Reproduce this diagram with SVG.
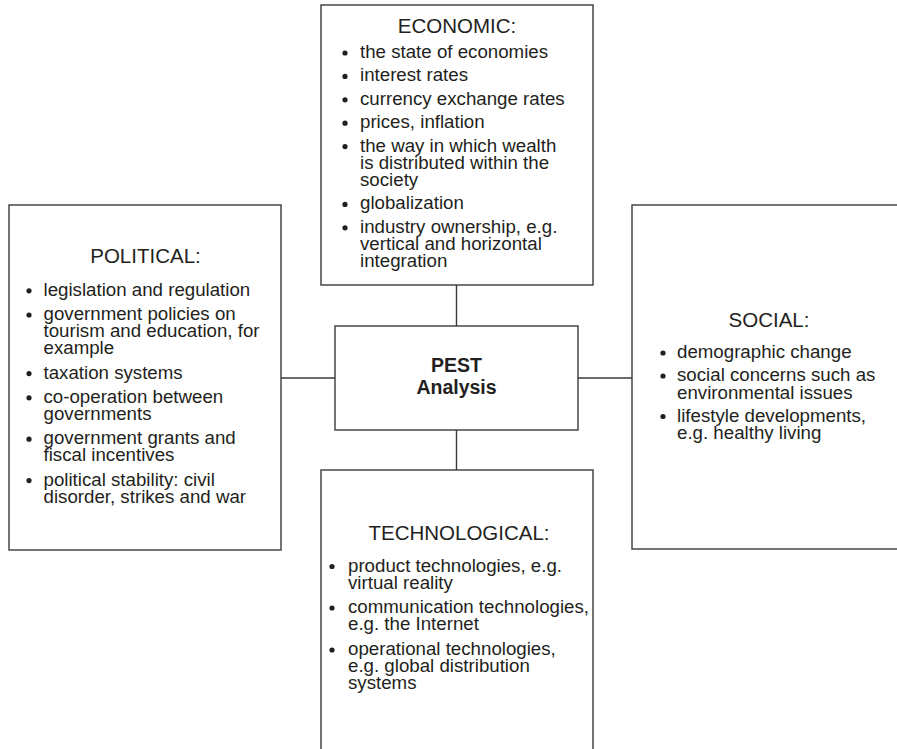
<svg xmlns="http://www.w3.org/2000/svg" width="897" height="749" viewBox="0 0 897 749">
  <style>
    .box { fill: #ffffff; stroke: #3a3a3a; stroke-width: 1.4; }
    .link { fill: none; stroke: #3a3a3a; stroke-width: 1.4; }
    .title { font-family: "Liberation Sans", Arial, Helvetica, sans-serif; font-size: 20.5px; fill: #231f20; text-anchor: middle; }
    .item { font-family: "Liberation Sans", Arial, Helvetica, sans-serif; font-size: 18.7px; fill: #231f20; }
    .hub { font-family: "Liberation Sans", Arial, Helvetica, sans-serif; font-size: 19.5px; font-weight: bold; fill: #231f20; text-anchor: middle; }
    .dot { fill: #231f20; }
  </style>
  <rect width="897" height="749" fill="#ffffff"/>

  <!-- connectors between the hub and the four factor boxes -->
  <g id="connectors">
    <line class="link" x1="456.5" y1="285" x2="456.5" y2="326"/>
    <line class="link" x1="456.5" y1="430" x2="456.5" y2="470"/>
    <line class="link" x1="281" y1="378" x2="335" y2="378"/>
    <line class="link" x1="578" y1="378" x2="632" y2="378"/>
  </g>

  <!-- ECONOMIC -->
  <g id="economic">
    <rect class="box" x="321" y="5" width="272" height="280"/>
    <text class="title" x="457" y="32.5">ECONOMIC:</text>
    <g class="dot">
      <circle cx="345" cy="53" r="2.6"/>
      <circle cx="345" cy="76.4" r="2.6"/>
      <circle cx="345" cy="99.8" r="2.6"/>
      <circle cx="345" cy="123.2" r="2.6"/>
      <circle cx="345" cy="146.6" r="2.6"/>
      <circle cx="345" cy="204.4" r="2.6"/>
      <circle cx="345" cy="227.8" r="2.6"/>
    </g>
    <text class="item" x="360" y="58">the state of economies</text>
    <text class="item" x="360" y="81.4">interest rates</text>
    <text class="item" x="360" y="104.8">currency exchange rates</text>
    <text class="item" x="360" y="128.2">prices, inflation</text>
    <text class="item" x="360" y="151.6">the way in which wealth</text>
    <text class="item" x="360" y="168.8">is distributed within the</text>
    <text class="item" x="360" y="186">society</text>
    <text class="item" x="360" y="209.4">globalization</text>
    <text class="item" x="360" y="232.8">industry ownership, e.g.</text>
    <text class="item" x="360" y="250">vertical and horizontal</text>
    <text class="item" x="360" y="267.2">integration</text>
  </g>

  <!-- POLITICAL -->
  <g id="political">
    <rect class="box" x="9" y="205" width="272" height="345"/>
    <text class="title" x="145.5" y="263">POLITICAL:</text>
    <g class="dot">
      <circle cx="29" cy="290.8" r="2.6"/>
      <circle cx="29" cy="315" r="2.6"/>
      <circle cx="29" cy="373.6" r="2.6"/>
      <circle cx="29" cy="397.8" r="2.6"/>
      <circle cx="29" cy="439.2" r="2.6"/>
      <circle cx="29" cy="480.6" r="2.6"/>
    </g>
    <text class="item" x="43.5" y="295.8">legislation and regulation</text>
    <text class="item" x="43.5" y="320">government policies on</text>
    <text class="item" x="43.5" y="337.2">tourism and education, for</text>
    <text class="item" x="43.5" y="354.4">example</text>
    <text class="item" x="43.5" y="378.6">taxation systems</text>
    <text class="item" x="43.5" y="402.8">co-operation between</text>
    <text class="item" x="43.5" y="420">governments</text>
    <text class="item" x="43.5" y="444.2">government grants and</text>
    <text class="item" x="43.5" y="461.4">fiscal incentives</text>
    <text class="item" x="43.5" y="485.6">political stability: civil</text>
    <text class="item" x="43.5" y="502.8">disorder, strikes and war</text>
  </g>

  <!-- PEST hub -->
  <g id="pest-analysis">
    <rect class="box" x="335" y="326" width="243" height="104"/>
    <text class="hub" x="456.5" y="371.5">PEST</text>
    <text class="hub" x="456.5" y="393.5">Analysis</text>
  </g>

  <!-- SOCIAL -->
  <g id="social">
    <rect class="box" x="632" y="205" width="280" height="344"/>
    <text class="title" x="769" y="327">SOCIAL:</text>
    <g class="dot">
      <circle cx="663" cy="353" r="2.6"/>
      <circle cx="663" cy="376" r="2.6"/>
      <circle cx="663" cy="416.5" r="2.6"/>
    </g>
    <text class="item" x="677" y="358">demographic change</text>
    <text class="item" x="677" y="381">social concerns such as</text>
    <text class="item" x="677" y="398.5">environmental issues</text>
    <text class="item" x="677" y="421.5">lifestyle developments,</text>
    <text class="item" x="677" y="439">e.g. healthy living</text>
  </g>

  <!-- TECHNOLOGICAL -->
  <g id="technological">
    <rect class="box" x="321" y="470" width="272" height="300"/>
    <text class="title" x="459" y="540">TECHNOLOGICAL:</text>
    <g class="dot">
      <circle cx="332" cy="566.5" r="2.6"/>
      <circle cx="332" cy="608" r="2.6"/>
      <circle cx="332" cy="650" r="2.6"/>
    </g>
    <text class="item" x="348" y="571.5">product technologies, e.g.</text>
    <text class="item" x="348" y="588.5">virtual reality</text>
    <text class="item" x="348" y="613">communication technologies,</text>
    <text class="item" x="348" y="630">e.g. the Internet</text>
    <text class="item" x="348" y="655">operational technologies,</text>
    <text class="item" x="348" y="672">e.g. global distribution</text>
    <text class="item" x="348" y="689">systems</text>
  </g>
</svg>
